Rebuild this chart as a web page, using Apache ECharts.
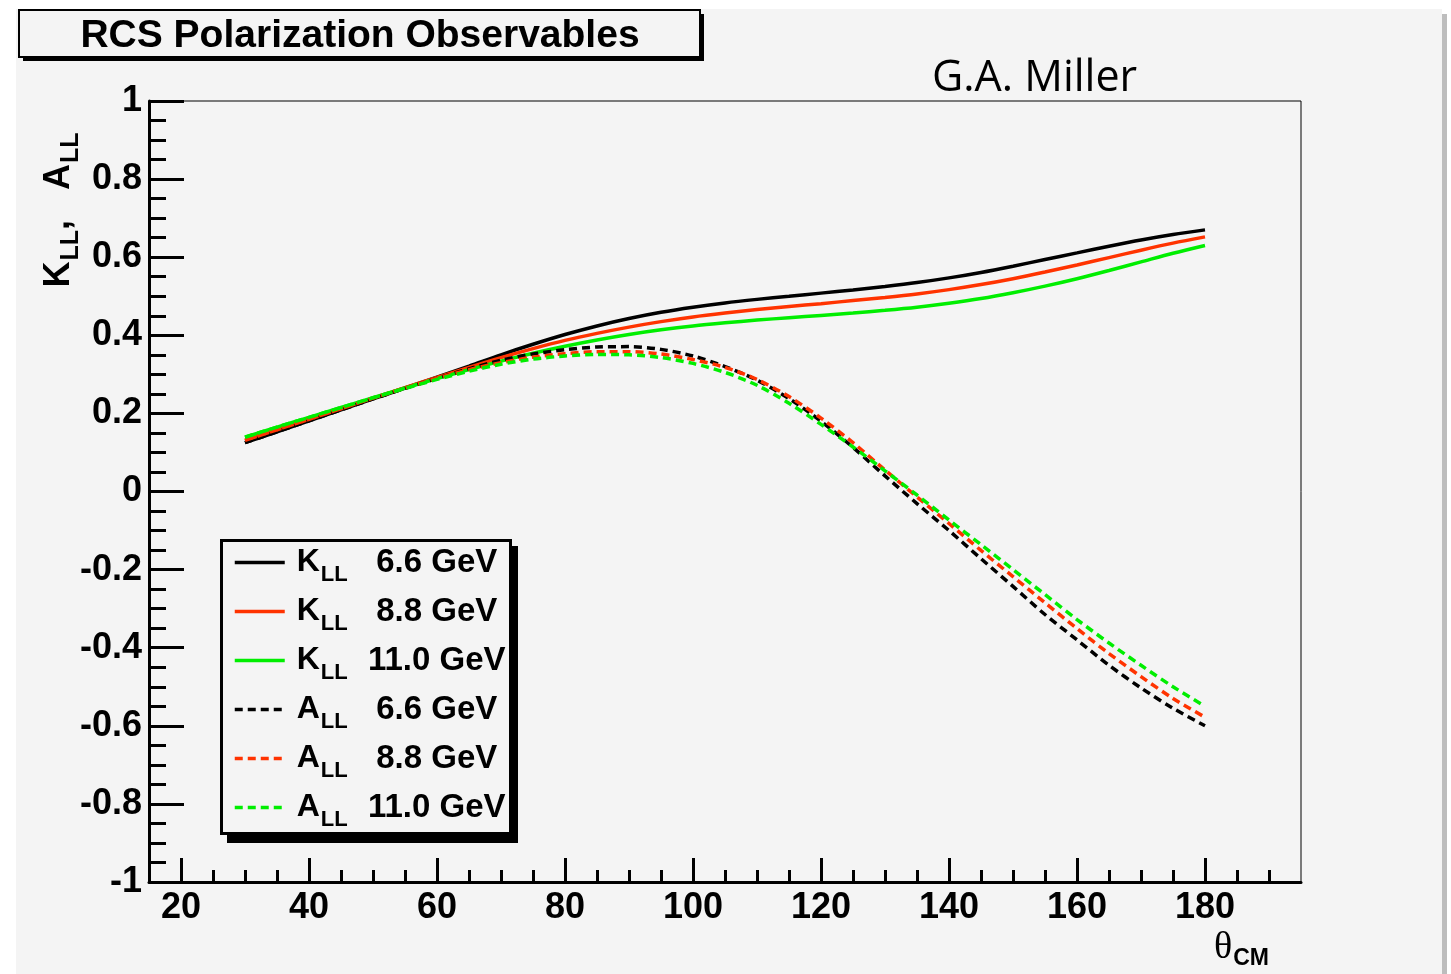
<!DOCTYPE html>
<html>
<head>
<meta charset="utf-8">
<script src="https://cdn.jsdelivr.net/npm/echarts@6/dist/echarts.min.js"></script>
<style>
html,body{margin:0;padding:0;background:#ffffff;}
#c{width:1451px;height:974px;}
</style>
</head>
<body>
<div id="c"></div>
<script>
// ---- data ----
const theta = [30,35,40,45,50,55,60,65,70,75,80,85,90,95,100,105,110,115,120,125,130,135,140,145,150,155,160,165,170,175,180];
const kll66 = [0.125,0.153,0.181,0.209,0.237,0.265,0.293,0.321,0.350,0.377,0.402,0.424,0.443,0.459,0.472,0.483,0.492,0.500,0.508,0.516,0.525,0.535,0.547,0.561,0.577,0.594,0.611,0.628,0.644,0.658,0.670];
const kll88 = [0.131,0.158,0.185,0.212,0.239,0.266,0.292,0.318,0.343,0.366,0.387,0.405,0.421,0.435,0.447,0.457,0.466,0.474,0.481,0.489,0.497,0.506,0.517,0.530,0.545,0.562,0.580,0.599,0.618,0.636,0.652];
const kll110 = [0.139,0.165,0.190,0.215,0.240,0.265,0.289,0.312,0.334,0.354,0.372,0.388,0.402,0.414,0.424,0.432,0.439,0.445,0.451,0.457,0.464,0.472,0.482,0.494,0.509,0.526,0.545,0.566,0.588,0.610,0.630];
const all66 = [0.125,0.153,0.181,0.209,0.237,0.264,0.290,0.314,0.336,0.352,0.363,0.370,0.371,0.364,0.347,0.320,0.285,0.238,0.180,0.113,0.040,-0.031,-0.100,-0.172,-0.243,-0.315,-0.380,-0.445,-0.503,-0.555,-0.600];
const all88 = [0.131,0.158,0.185,0.212,0.239,0.265,0.290,0.312,0.330,0.344,0.353,0.358,0.358,0.352,0.338,0.318,0.287,0.243,0.188,0.125,0.055,-0.014,-0.082,-0.151,-0.218,-0.285,-0.351,-0.415,-0.474,-0.530,-0.578];
const all110 = [0.139,0.165,0.190,0.215,0.240,0.264,0.287,0.308,0.326,0.339,0.347,0.351,0.350,0.343,0.328,0.305,0.272,0.226,0.172,0.114,0.053,-0.009,-0.073,-0.136,-0.200,-0.264,-0.328,-0.388,-0.445,-0.500,-0.550];

const xMajorTicks = [20,40,60,80,100,120,140,160,180];
const xMinorTicks = [25,30,35,45,50,55,65,70,75,85,90,95,105,110,115,125,130,135,145,150,155,165,170,175,185,190];

const seriesNames = ['K 6.6','K 8.8','K 11.0','A 6.6','A 8.8','A 11.0'];
const legendQuantity = ['K','K','K','A','A','A'];
const legendEnergy = ['6.6 GeV','8.8 GeV','11.0 GeV','6.6 GeV','8.8 GeV','11.0 GeV'];
const seriesValues = [kll66, kll88, kll110, all66, all88, all110];
const seriesColors = ['#000000','#ff3300','#00ee00','#000000','#ff3300','#00ee00'];
const seriesDashed = [false,false,false,true,true,true];

const titleText = 'RCS Polarization Observables';
const authorText = 'G.A. Miller';

// ---- chart ----
const FONT = 'Liberation Sans, Arial, Helvetica, sans-serif';
const chart = echarts.init(document.getElementById('c'), null, {renderer:'canvas'});

const series = seriesNames.map((n, i) => ({
  name: n,
  type: 'line',
  xAxisIndex: 0,
  yAxisIndex: 0,
  smooth: 0.3,
  symbol: 'none',
  showSymbol: false,
  data: theta.map((t, j) => [t, seriesValues[i][j]]),
  lineStyle: {color: seriesColors[i], width: 3.5, type: seriesDashed[i] ? [8,5] : 'solid'},
  itemStyle: {color: seriesColors[i]},
  z: 2 + i
}));

const option = {
  animation: false,
  backgroundColor: 'transparent',
  grid: {left:149, top:101, width:1152, height:781, show:true, borderColor:'#000', borderWidth:1, backgroundColor:'transparent'},
  xAxis: [
    {
      type:'value', min:15, max:195,
      axisLine:{show:true, onZero:false, lineStyle:{color:'#000', width:3}},
      axisTick:{show:true, inside:true, length:24, customValues:xMajorTicks, lineStyle:{color:'#000', width:3}},
      axisLabel:{show:true, customValues:xMajorTicks, color:'#000', fontSize:36, fontWeight:'bold', fontFamily:FONT, margin:8},
      splitLine:{show:false}
    },
    {
      type:'value', min:15, max:195, position:'bottom',
      axisLine:{show:false, onZero:false},
      axisTick:{show:true, inside:true, length:12, customValues:xMinorTicks, lineStyle:{color:'#000', width:3}},
      axisLabel:{show:false},
      splitLine:{show:false}
    }
  ],
  yAxis: {
    type:'value', min:-1, max:1, interval:0.2,
    axisLine:{show:true, onZero:false, lineStyle:{color:'#000', width:3}},
    axisTick:{show:true, inside:true, length:35, lineStyle:{color:'#000', width:3}},
    minorTick:{show:true, splitNumber:4, length:17, lineStyle:{color:'#000', width:3}},
    splitLine:{show:false},
    axisLabel:{color:'#000', fontSize:36, fontWeight:'bold', fontFamily:FONT, margin:7}
  },
  legend: {
    orient:'vertical', left:233, top:539, padding:0, itemGap:2,
    itemWidth:50, itemHeight:14, selectedMode:false,
    itemStyle:{opacity:0},
    lineStyle:{width:3.5},
    data: seriesNames,
    formatter: function(name){
      const i = seriesNames.indexOf(name);
      return '{q|' + legendQuantity[i] + '}{s|LL}{e|' + legendEnergy[i] + '}';
    },
    textStyle:{
      color:'#000', fontFamily:FONT, fontWeight:'bold', padding:[0,0,0,0],
      rich:{
        q:{fontSize:32, fontWeight:'bold', fontFamily:FONT, color:'#000', lineHeight:34, padding:[0,0,0,7]},
        s:{fontSize:22, fontWeight:'bold', fontFamily:FONT, color:'#000', lineHeight:22, padding:[25,0,0,1]},
        e:{fontSize:33, fontWeight:'bold', fontFamily:FONT, color:'#000', lineHeight:34, width:178, align:'center'}
      }
    },
    z: 6
  },
  graphic: [
    // page canvas
    {type:'rect', z:-20, silent:true, shape:{x:16, y:9, width:1426, height:965}, style:{fill:'#f4f4f4'}},
    {type:'rect', z:-20, silent:true, shape:{x:1442, y:14, width:5, height:960}, style:{fill:'#bdbdbd'}},
    // title box
    {type:'rect', z:1, silent:true, shape:{x:23, y:14, width:681, height:47}, style:{fill:'#000'}},
    {type:'rect', z:2, silent:true, shape:{x:19, y:10, width:681, height:47}, style:{fill:'#f4f4f4', stroke:'#000', lineWidth:2}},
    {type:'text', z:3, silent:true, x:360, y:36, style:{text:titleText, fill:'#000', font:'bold 39px ' + FONT, align:'center', verticalAlign:'middle'}},
    // author
    {type:'text', z:3, silent:true, x:932, y:79, style:{text:authorText, fill:'#000', font:'43px "Open Sans", "Noto Sans", sans-serif', align:'left', verticalAlign:'middle'}},
    // legend box
    {type:'rect', z:1, silent:true, shape:{x:227, y:546, width:291, height:297}, style:{fill:'#000'}},
    {type:'rect', z:2, silent:true, shape:{x:221.5, y:540.5, width:289, height:293}, style:{fill:'#f4f4f4', stroke:'#000', lineWidth:3}},
    // y axis title
    {type:'text', z:3, silent:true, x:59, y:210, rotation:Math.PI/2,
      style:{text:'{b|K}{s|LL}{b|,   A}{s|LL}', align:'center', verticalAlign:'middle',
        rich:{
          b:{fontSize:36, fontWeight:'bold', fontFamily:FONT, fill:'#000', lineHeight:36},
          s:{fontSize:25, fontWeight:'bold', fontFamily:FONT, fill:'#000', lineHeight:25, padding:[24,0,0,1]}
        }}},
    // x axis title
    {type:'text', z:3, silent:true, x:1214, y:948,
      style:{text:'{t|θ}{s|CM}', align:'left', verticalAlign:'middle',
        rich:{
          t:{fontSize:38, fontFamily:'Liberation Serif, DejaVu Serif, serif', fill:'#000', lineHeight:38},
          s:{fontSize:23, fontWeight:'bold', fontFamily:FONT, fill:'#000', lineHeight:23, padding:[22,0,0,1]}
        }}}
  ],
  series: series
};
chart.setOption(option);
</script>
</body>
</html>
